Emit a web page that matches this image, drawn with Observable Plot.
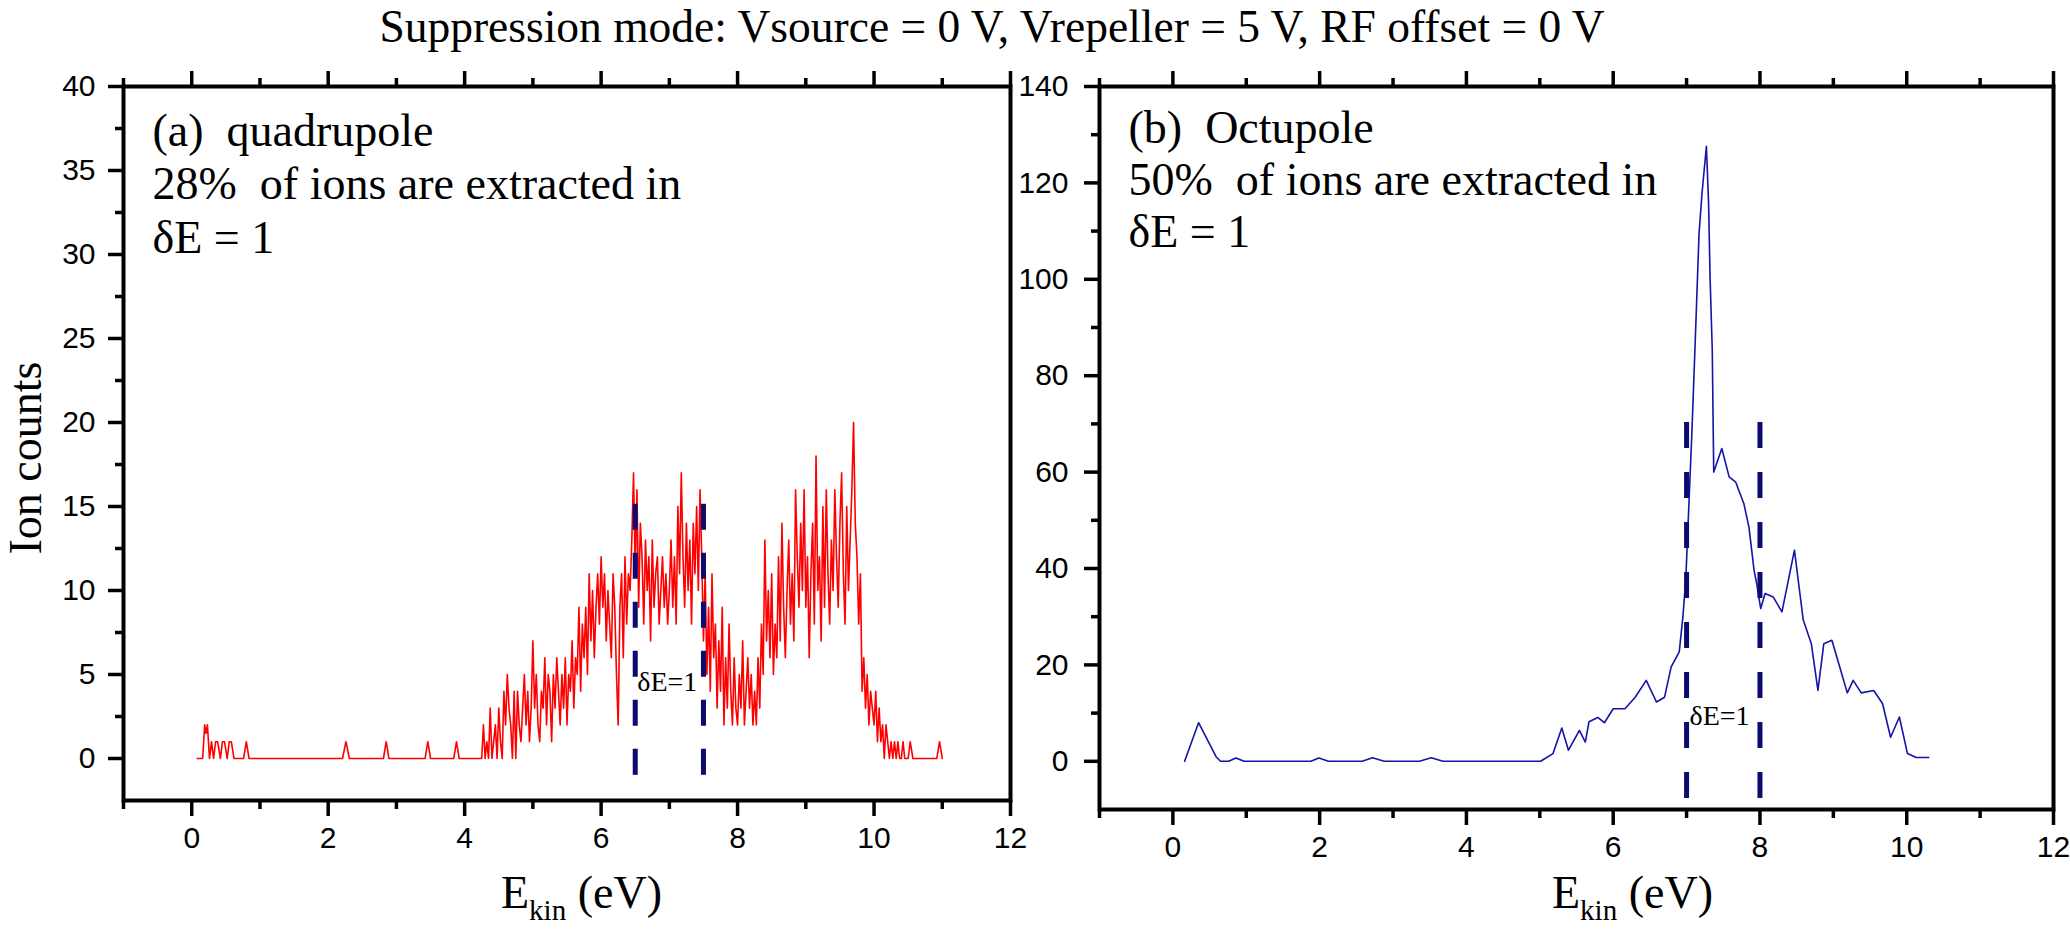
<!DOCTYPE html>
<html><head><meta charset="utf-8">
<script src="https://cdn.jsdelivr.net/npm/d3@7"></script>
<script src="https://cdn.jsdelivr.net/npm/@observablehq/plot@0.6"></script>
<style>
body{margin:0;background:#fff;width:2070px;height:929px;position:relative;overflow:hidden}
#title{position:absolute;left:0;top:4px;width:1984px;text-align:center;font-family:"Liberation Serif","Times New Roman",serif;font-size:45.5px;line-height:45.5px;white-space:nowrap;color:#000;z-index:5}
#left{position:absolute;left:0;top:0}
#right{position:absolute;left:1015px;top:0}
g[aria-label="text"] text, g[aria-label="text"] tspan, text.serif, text.serif tspan{font-family:"Liberation Serif","Times New Roman",serif !important}
</style></head><body>
<div id="left"></div><div id="right"></div>
<div id="title">Suppression mode: Vsource = 0 V, Vrepeller = 5 V, RF offset = 0 V</div>
<script>
// ---------- data: (a) quadrupole ----------
const quadLowE = [0.08,0.16,0.19,0.21,0.23,0.26,0.29,0.32,0.35,0.38,
                  0.42,0.45,0.48,0.52,0.55,0.58,0.62,0.66,0.76,0.80,
                  0.84,2.21,2.26,2.31,2.81,2.85,2.89,3.42,3.46,3.50,
                  3.84,3.88,3.92,4.225];
const quadLowCounts = [0,0,2,1.5,2,0,1,0,1,1,
                       0,1,1,0,1,1,0,0,0,1,
                       0,0,1,0,0,1,0,0,1,0,
                       0,1,0,0];
const quadBinStart = 4.25, quadBinStep = 0.025;
const quadBinCounts = [
  0,2,0,1,0,3,0,1,2,0,
  3,1,0,4,2,5,3,2,0,4,
  0,4,2,1,3,5,2,4,1,3,
  7,3,5,2,1,4,3,6,2,5,
  4,1,5,3,6,4,2,5,3,6,
  2,5,4,7,3,6,5,9,4,8,
  6,9,5,11,7,10,6,9,11,8,
  12,9,11,7,10,8,6,11,9,5,
  2,9,11,6,12,8,11,10,13,17,
  11,16,9,14,12,8,13,10,12,7,
  13,9,11,12,8,10,12,9,11,8,
  10,13,9,12,8,15,11,17,12,9,
  14,10,13,8,14,11,15,10,16,12,
  7,11,5,9,4,11,6,8,3,7,
  4,9,2,6,3,8,4,2,6,3,
  2,5,3,7,2,4,6,3,5,2,
  4,2,6,3,8,5,13,7,10,6,
  11,5,8,6,12,7,14,9,6,10,
  13,8,11,7,16,12,9,14,10,16,
  9,12,6,11,14,8,18,10,12,7,
  15,9,16,11,8,13,10,16,12,9,
  14,17,11,8,15,10,13,16,20,14,
  12,8,11,4,6,3,5,2,4,3,
  2,4,1,3,1,2,0,2,1,0,
  1,0,1,0,1,0,0,1,0,0];
const quadTailE = [10.5,10.53,10.57,10.62,10.92,10.96,11.0];
const quadTailCounts = [0,1,0,0,0,1,0];
const quadWindow = [6.5, 7.5];
const quadNote = ["(a)  quadrupole", "28%  of ions are extracted in", "\u03B4E = 1"];

// ---------- data: (b) octupole ----------
const octE = [0.16,0.35,0.59,0.65,0.76,0.86,0.97,1.88,1.99,2.12,
              2.58,2.72,2.88,3.36,3.52,3.68,5.01,5.18,5.30,5.39,
              5.54,5.62,5.67,5.79,5.88,6.00,6.16,6.30,6.45,6.59,
              6.70,6.79,6.90,6.95,6.99,7.07,7.12,7.17,7.21,7.27,
              7.30,7.32,7.35,7.37,7.48,7.58,7.67,7.78,7.85,7.92,
              7.96,8.01,8.07,8.18,8.30,8.47,8.59,8.70,8.79,8.87,
              8.98,9.10,9.19,9.27,9.38,9.55,9.67,9.78,9.90,10.01,
              10.13,10.30];
const octCounts = [0,8,0.9,0,0,0.7,0,0,0.7,0,
                   0,0.75,0,0,0.75,0,0,1.6,6.9,2.3,
                   6.4,4,8.2,9.1,8,10.9,10.9,13.3,16.8,12.3,
                   13.3,19.6,22.7,30,38,67.3,88,109.5,117.8,127.6,
                   115.7,100.5,85.3,60,64.9,59,57.9,53.5,48.6,39.6,
                   36.5,31.7,34.8,34.1,31,43.8,29.3,24.4,14.7,24.4,
                   25.1,18.9,14.2,16.8,14.2,14.7,12,5,9.2,1.6,
                   0.8,0.8];
const octWindow = [7, 8];
const octNote = ["(b)  Octupole", "50%  of ions are extracted in", "\u03B4E = 1"];

// ---------- ticks ----------
const xMajor = [0,2,4,6,8,10,12];
const xMinor = [-1,1,3,5,7,9,11];
const quadYMajor = [0,5,10,15,20,25,30,35,40];
const quadYMinor = [2.5,7.5,12.5,17.5,22.5,27.5,32.5,37.5];
const octYMajor = [0,20,40,60,80,100,120,140];
const octYMinor = [10,30,50,70,90,110,130];

// ---------- build tables ----------
const quadrupole = [
  ...quadLowE.map((e,i)=>({e, c: quadLowCounts[i]})),
  ...quadBinCounts.map((c,i)=>({e: quadBinStart + i*quadBinStep, c})),
  ...quadTailE.map((e,i)=>({e, c: quadTailCounts[i]}))
];
const octupole = octE.map((e,i)=>({e, c: octCounts[i]}));

const serif = '"Liberation Serif","Times New Roman",serif';
const sans = '"Liberation Sans Narrow","Arial Narrow","Liberation Sans",Arial,sans-serif';
const dashColor = "#0b0b70";

function axes(yMajor, yMinor, yPad) {
  const t = {strokeWidth: 3.5, label: null};
  return [
    Plot.frame({strokeWidth: 4}),
    Plot.axisX(xMajor, {...t, anchor: "bottom", tickSize: 16, tickPadding: 10, tickFormat: d => String(d)}),
    Plot.axisX(xMinor, {...t, anchor: "bottom", tickSize: 9, tickFormat: () => ""}),
    Plot.axisX(xMajor, {...t, anchor: "top", tickSize: 16, tickFormat: () => ""}),
    Plot.axisX(xMinor, {...t, anchor: "top", tickSize: 9, tickFormat: () => ""}),
    Plot.axisY(yMajor, {...t, anchor: "left", tickSize: 15, tickPadding: yPad, tickFormat: d => String(d)}),
    Plot.axisY(yMinor, {...t, anchor: "left", tickSize: 8, tickFormat: () => ""})
  ];
}

const commonStyle = {background: "transparent", fontFamily: sans, fontSize: "30px", color: "#000", overflow: "visible"};

const left = Plot.plot({
  width: 1015, height: 929,
  marginLeft: 123, marginRight: 5, marginTop: 86, marginBottom: 129,
  x: {domain: [-1, 12]},
  y: {domain: [-2.5, 40]},
  style: commonStyle,
  marks: [
    Plot.line(quadrupole, {x: "e", y: "c", stroke: "#ff0000", strokeWidth: 1.6}),
    Plot.ruleX(quadWindow, {x: d => d, y1: -1, y2: 15.5, stroke: dashColor, strokeWidth: 5, strokeDasharray: "26,23"}),
    Plot.text(["\u03B4E=1"], {x: 6.53, y: 4, text: d => d, textAnchor: "start", lineAnchor: "bottom", fontFamily: serif, fontSize: 28}),
    ...axes(quadYMajor, quadYMinor, 13),
    Plot.text([quadNote.join("\n")], {frameAnchor: "top-left", dx: 29, dy: 166, text: d => d, textAnchor: "start", lineAnchor: "bottom", lineHeight: 1.163, fontFamily: serif, fontSize: 46})
  ]
});

const right = Plot.plot({
  width: 1055, height: 929,
  marginLeft: 84, marginRight: 17, marginTop: 86, marginBottom: 120,
  x: {domain: [-1, 12]},
  y: {domain: [-10, 140]},
  style: commonStyle,
  marks: [
    Plot.line(octupole, {x: "e", y: "c", stroke: "#1414a8", strokeWidth: 1.6}),
    Plot.ruleX(octWindow, {x: d => d, y1: -7.7, y2: 71.4, stroke: dashColor, strokeWidth: 5, strokeDasharray: "26,24"}),
    Plot.text(["\u03B4E=1"], {x: 7.04, y: 7.5, text: d => d, textAnchor: "start", lineAnchor: "bottom", fontFamily: serif, fontSize: 28}),
    ...axes(octYMajor, octYMinor, 16),
    Plot.text([octNote.join("\n")], {frameAnchor: "top-left", dx: 29, dy: 160, text: d => d, textAnchor: "start", lineAnchor: "bottom", lineHeight: 1.13, fontFamily: serif, fontSize: 46})
  ]
});

document.getElementById("left").appendChild(left);
document.getElementById("right").appendChild(right);

function xLabel(svg, x0) {
  const t = d3.select(svg).append("text")
    .attr("class", "serif")
    .attr("x", x0).attr("y", 908)
    .attr("text-anchor", "start")
    .style("font-size", "46px").attr("fill", "#000");
  t.append("tspan").text("E");
  t.append("tspan").attr("dy", 12).style("font-size", "29px").text("kin");
  t.append("tspan").attr("dy", -12).text(" (eV)");
}
xLabel(left, 501);
xLabel(right, 537);

d3.select(left).append("text")
  .attr("class", "serif")
  .attr("transform", "translate(41,458) rotate(-90)")
  .attr("text-anchor", "middle")
  .style("font-size", "46px").attr("fill", "#000")
  .text("Ion counts");
</script></body></html>
